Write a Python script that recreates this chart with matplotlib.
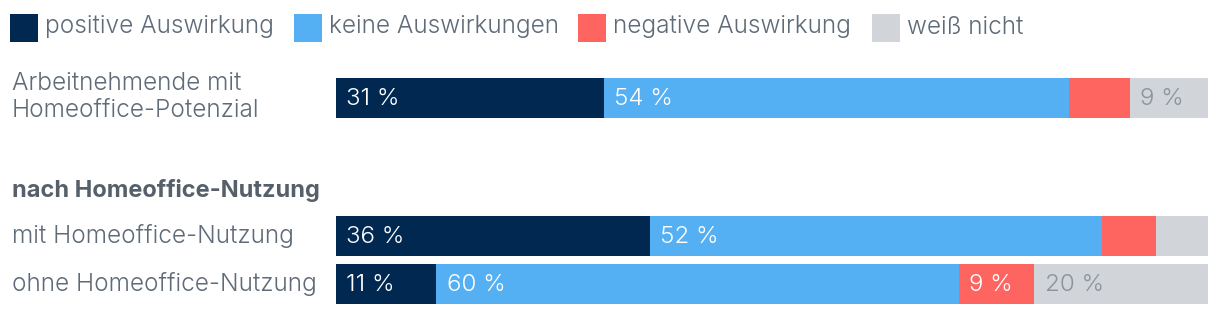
import matplotlib
matplotlib.use("Agg")
import matplotlib.pyplot as plt
from matplotlib.patches import Rectangle

# ---- data ----
categories = ["positive Auswirkung", "keine Auswirkungen", "negative Auswirkung", "weiß nicht"]
rows = ["Arbeitnehmende mit\nHomeoffice-Potenzial", "mit Homeoffice-Nutzung", "ohne Homeoffice-Nutzung"]
positive = [30.7, 36.0, 11.5]
keine = [53.4, 51.8, 59.9]
negative = [6.9, 6.2, 8.7]
weiss = [9.0, 6.0, 19.9]
labels_positive = ["31 %", "36 %", "11 %"]
labels_keine = ["54 %", "52 %", "60 %"]
labels_negative = ["", "", "9 %"]
labels_weiss = ["9 %", "", "20 %"]
group_title = "nach Homeoffice-Nutzung"

# ---- style ----
colors = ["#002850", "#54aff3", "#fe6460", "#d1d5d9"]
text_colors = ["white", "white", "white", "#8c939d"]
label_color = "#5f6b78"
FONT = "Inter"
FW = 300
FS = 17.6

W, H = 1220, 314
fig = plt.figure(figsize=(W / 100, H / 100), dpi=100)

# bar axes in pixel layout: x from 336 to 1208
ax = fig.add_axes([336 / W, 0, (1208 - 336) / W, 1])
ax.set_xlim(0, 100)
ax.set_ylim(H, 0)
ax.axis("off")

row_centers = [98, 236, 284]
bar_h = 40

series = [positive, keine, negative, weiss]
series_labels = [labels_positive, labels_keine, labels_negative, labels_weiss]
for i, yc in enumerate(row_centers):
    total = sum(s[i] for s in series)
    left = 0.0
    for k, s in enumerate(series):
        w = s[i] / total * 100
        ax.barh(yc, w, left=left, height=bar_h, color=colors[k], edgecolor="none")
        lab = series_labels[k][i]
        if lab:
            ax.text(left + 10.5 / 8.72, yc + 1, lab, ha="left", va="center",
                    color=text_colors[k], fontsize=FS - 0.2, family=FONT, fontweight=FW)
        left += w

# row labels
def ftext(x, y, s, **kw):
    fig.text(x / W, 1 - y / H, s, **kw)

ftext(12, 97, rows[0], ha="left", va="center", color=label_color, fontsize=FS,
      family=FONT, fontweight=FW, linespacing=1.22)
ftext(12, 236, rows[1], ha="left", va="center", color=label_color, fontsize=FS,
      family=FONT, fontweight=FW)
ftext(12, 284, rows[2], ha="left", va="center", color=label_color, fontsize=FS,
      family=FONT, fontweight=FW)
ftext(12, 190, group_title, ha="left", va="center", color="#56606b", fontsize=FS - 0.6,
      family=FONT, fontweight="bold")

# legend
leg_x = [10, 294, 578, 872]
for k, cat in enumerate(categories):
    fig.patches.append(Rectangle((leg_x[k] / W, 1 - 42 / H), 28 / W, 28 / H,
                                 transform=fig.transFigure, color=colors[k], ec="none"))
    ftext(leg_x[k] + 35, 27, cat, ha="left", va="center", color=label_color,
          fontsize=FS, family=FONT, fontweight=FW)

fig.savefig("out.png", dpi=100)
